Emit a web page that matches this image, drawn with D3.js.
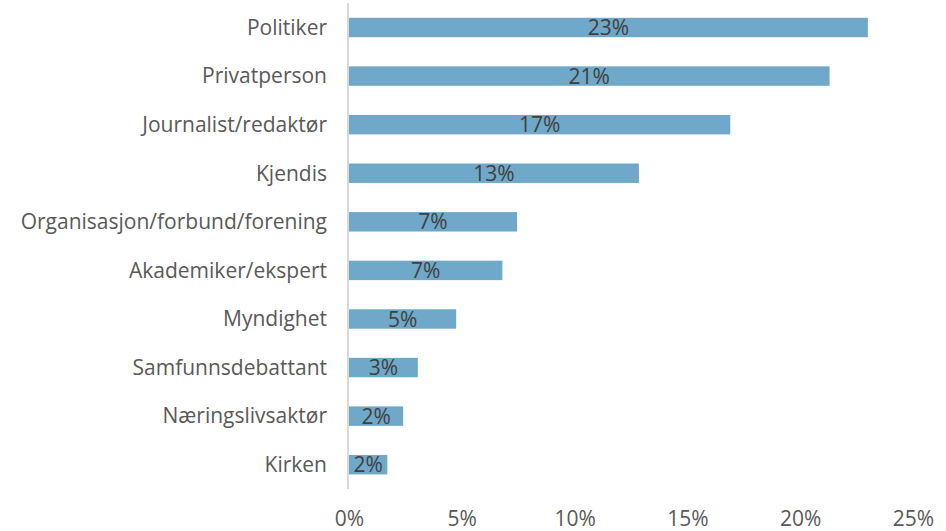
<!DOCTYPE html>
<html>
<head>
<meta charset="utf-8">
<script src="https://d3js.org/d3.v7.min.js"></script>
<style>
  body { margin: 0; background: #fff; }
  svg text { font-family: "Open Sans", Lato, sans-serif; }
</style>
</head>
<body>
<div id="chart"></div>
<script>
const categories = ["Politiker", "Privatperson", "Journalist/redaktør", "Kjendis",
  "Organisasjon/forbund/forening", "Akademiker/ekspert", "Myndighet",
  "Samfunnsdebattant", "Næringslivsaktør", "Kirken"];
const values = [23.0, 21.3, 16.9, 12.85, 7.45, 6.8, 4.75, 3.05, 2.4, 1.7];
const tickValues = [0, 5, 10, 15, 20, 25];

const width = 946, height = 531;
const x0 = 349, x1 = 913, yTop = 3.2, yBot = 489;

const svg = d3.select("#chart").append("svg")
  .attr("width", width).attr("height", height);

const x = d3.scaleLinear().domain([0, 25]).range([x0, x1]);
const y = d3.scaleBand().domain(categories).range([yTop, yBot]).paddingInner(0.6).paddingOuter(0.3);

// bars
svg.selectAll("rect.bar")
  .data(categories)
  .enter().append("rect")
  .attr("class", "bar")
  .attr("x", x(0))
  .attr("y", d => y(d))
  .attr("width", (d, i) => x(values[i]) - x(0))
  .attr("height", y.bandwidth())
  .attr("fill", "#6fa8c8");

// vertical axis line
svg.append("line")
  .attr("x1", x(0) - 1).attr("x2", x(0) - 1)
  .attr("y1", yTop).attr("y2", yBot)
  .attr("stroke", "#d9d9d9").attr("stroke-width", 2);

// category labels
svg.selectAll("text.cat")
  .data(categories)
  .enter().append("text")
  .attr("class", "cat")
  .attr("x", 327)
  .attr("y", d => y(d) + y.bandwidth() / 2)
  .attr("dy", "0.35em")
  .attr("text-anchor", "end")
  .attr("font-size", 21)
  .attr("fill", "#595959")
  .text(d => d);

// value labels
svg.selectAll("text.val")
  .data(categories)
  .enter().append("text")
  .attr("class", "val")
  .attr("x", (d, i) => (x(0) + x(values[i])) / 2)
  .attr("y", d => y(d) + y.bandwidth() / 2)
  .attr("dy", "0.36em")
  .attr("text-anchor", "middle")
  .attr("font-size", 21)
  .attr("fill", "#404040")
  .text((d, i) => Math.round(values[i]) + "%");

// x axis tick labels
const xAxis = d3.axisBottom(x).tickValues(tickValues).tickSize(0).tickFormat(d => d + "%");
const gx = svg.append("g")
  .attr("transform", `translate(0,${yBot + 19})`)
  .call(xAxis);
gx.select(".domain").remove();
gx.selectAll("text")
  .attr("font-size", 21)
  .attr("fill", "#595959")
  .style("font-family", "'Open Sans', Lato, sans-serif");
</script>
</body>
</html>
